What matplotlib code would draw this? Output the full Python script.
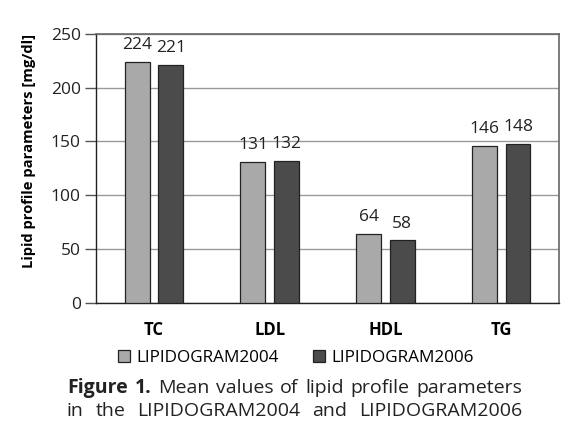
import matplotlib
matplotlib.use("Agg")
import matplotlib.pyplot as plt
import numpy as np

plt.rcParams['font.family'] = ['Open Sans', 'DejaVu Sans']

categories = ['TC', 'LDL', 'HDL', 'TG']
series_names = ['LIPIDOGRAM2004', 'LIPIDOGRAM2006']
values_2004 = [224, 131, 64, 146]
values_2006 = [221, 132, 58, 148]
y_ticks = [0, 50, 100, 150, 200, 250]
ylabel = 'Lipid profile parameters [mg/dl]'
caption_line1 = 'Mean values of lipid profile parameters'
caption_line2 = 'in the LIPIDOGRAM2004 and LIPIDOGRAM2006'

light = '#a9a9a9'
dark = '#4b4b4b'

fig = plt.figure(figsize=(5.86, 4.29), dpi=100)
ax = fig.add_axes([0.164, 0.294, 0.790, 0.627])

x = np.arange(len(categories))
w = 0.215
off = 0.145
b1 = ax.bar(x - off, values_2004, w, color=light, edgecolor='#222222', linewidth=0.9, label=series_names[0], zorder=3)
b2 = ax.bar(x + off, values_2006, w, color=dark, edgecolor='#222222', linewidth=0.9, label=series_names[1], zorder=3)

for bars, vals in [(b1, values_2004), (b2, values_2006)]:
    for r, v in zip(bars, vals):
        ax.text(r.get_x() + r.get_width() / 2, v + 8, str(v), ha='center', va='bottom', fontsize=12.5, color='#222222')

ax.set_xlim(-0.5, 3.5)
ax.set_ylim(0, 250)
ax.set_yticks(y_ticks)
ax.set_xticks(x)
ax.set_xticklabels(categories, fontweight='bold', fontsize=12)
ax.tick_params(axis='x', length=0, pad=13)
ax.tick_params(axis='y', length=8, width=1, color='#555555', labelsize=12.5, pad=3, labelcolor='#222222')
ax.yaxis.grid(True, color='#999999', linewidth=1, zorder=0)
ax.set_axisbelow(True)
for s in ['top', 'right']:
    ax.spines[s].set_color('#666666')
    ax.spines[s].set_linewidth(1.2)
for s in ['left', 'bottom']:
    ax.spines[s].set_color('#222222')
    ax.spines[s].set_linewidth(1.0)
ax.set_ylabel(ylabel, fontweight='bold', fontsize=10.6)
ax.yaxis.set_label_coords(-0.13, 0.565)

fig.legend(handles=[b1, b2], loc='center', bbox_to_anchor=(0.505, 0.166), ncol=2, frameon=False,
           fontsize=12.3, handlelength=0.7, handleheight=0.7, handletextpad=0.35, columnspacing=2.0)

# caption, justified between x0 and x1
x0, x1 = 67 / 586, 522 / 586
fig.canvas.draw()
r = fig.canvas.get_renderer()


def justify(words, y, weights):
    texts = [fig.text(0, y, wd, fontsize=14, fontweight=wt, va='center', color='#222222')
             for wd, wt in zip(words, weights)]
    widths = [t.get_window_extent(r).width / fig.bbox.width for t in texts]
    gap = (x1 - x0 - sum(widths)) / (len(words) - 1)
    pos = x0
    for t, wdt in zip(texts, widths):
        t.set_x(pos)
        pos += wdt + gap


words1 = ['Figure', '1.'] + caption_line1.split()
justify(words1, 1 - 388 / 429, ['bold', 'bold'] + ['normal'] * len(caption_line1.split()))
words2 = caption_line2.split()
justify(words2, 1 - 411 / 429, ['normal'] * len(words2))

fig.savefig('out.png', dpi=100)
